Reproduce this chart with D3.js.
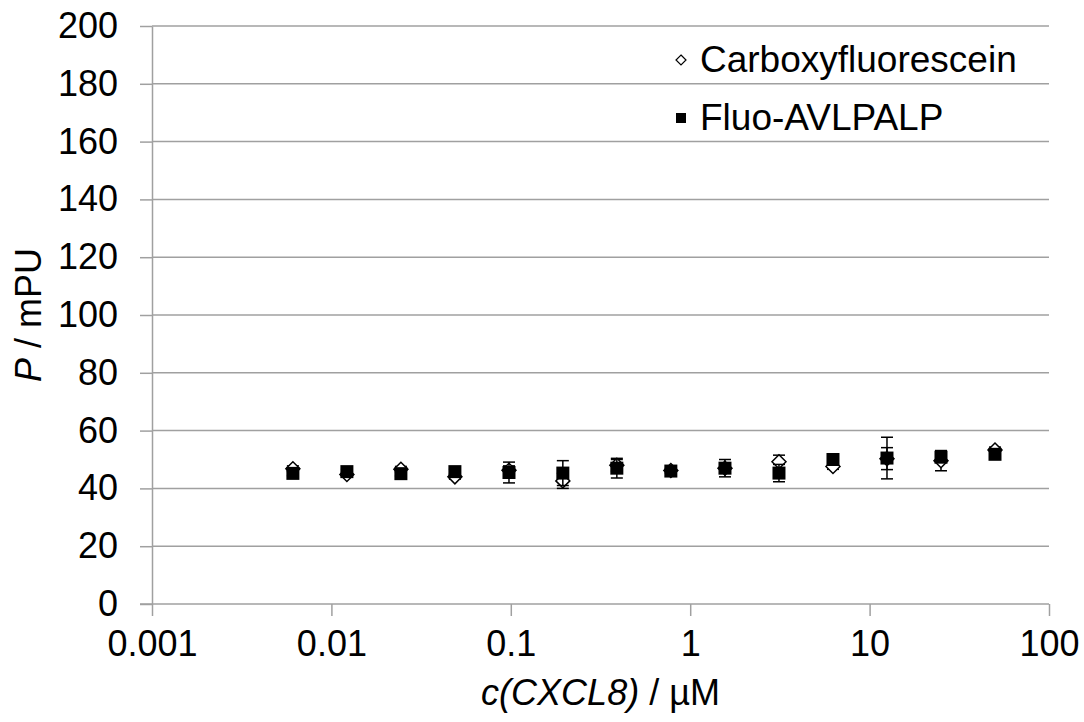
<!DOCTYPE html>
<html>
<head>
<meta charset="utf-8">
<script src="https://cdn.jsdelivr.net/npm/d3@7"></script>
<style>
  body { margin: 0; background: #fff; }
  svg text { font-family: "Liberation Sans", Arial, sans-serif; fill: #000; }
</style>
</head>
<body>
<div id="chart"></div>
<script>
// concentrations (µM), 2-fold dilution series
var conc = [0.0061, 0.0122, 0.0244, 0.0488, 0.0977, 0.195, 0.39, 0.78, 1.5625, 3.125, 6.25, 12.5, 25, 50];
var carboxy = [46.8, 44.8, 46.6, 44.0, 46.3, 42.6, 48.0, 46.2, 47.0, 49.2, 47.6, 50.3, 49.6, 53.3];
var carboxyErr = [1.0, 0.8, 1.0, 0.8, 1.5, 2.6, 2.0, 0.8, 1.0, 2.3, 1.0, 3.8, 3.5, 1.0];
var fluo = [45.2, 45.8, 45.1, 45.8, 45.5, 45.3, 47.0, 46.0, 47.0, 45.3, 50.0, 50.5, 50.8, 51.8];
var fluoErr = [0.8, 0.8, 0.8, 0.8, 3.6, 4.3, 3.4, 0.8, 3.0, 3.0, 0.8, 7.2, 1.0, 0.8];

var xTicks = [0.001, 0.01, 0.1, 1, 10, 100];
var yTicks = [0, 20, 40, 60, 80, 100, 120, 140, 160, 180, 200];

var margin = { top: 26, right: 35, bottom: 118, left: 152 };
var width = 1084 - margin.left - margin.right;
var height = 722 - margin.top - margin.bottom;
var fontSize = "36px";

var svg = d3.select("#chart").append("svg")
  .attr("width", 1084)
  .attr("height", 722);

var g = svg.append("g")
  .attr("transform", "translate(" + margin.left + "," + margin.top + ")");

var x = d3.scaleLog().domain([0.001, 100]).range([0, width]);
var y = d3.scaleLinear().domain([0, 200]).range([height, 0]);

// gridlines
g.append("g").selectAll("line")
  .data(yTicks.slice(1))
  .enter().append("line")
  .attr("x1", 0).attr("x2", width)
  .attr("y1", function (d) { return y(d); })
  .attr("y2", function (d) { return y(d); })
  .attr("stroke", "#a0a0a0")
  .attr("stroke-width", 1.5);

// y axis
var yAxis = g.append("g")
  .call(d3.axisLeft(y).tickValues(yTicks).tickSize(12).tickPadding(22).tickSizeOuter(0));
yAxis.selectAll("line").attr("stroke", "#a0a0a0").attr("stroke-width", 1.5);
yAxis.select(".domain").attr("stroke", "#a0a0a0").attr("stroke-width", 1.5);
yAxis.selectAll("text").style("font-size", fontSize).style("font-family", "Liberation Sans, Arial, sans-serif");

// x axis
var xAxis = g.append("g")
  .attr("transform", "translate(0," + height + ")")
  .call(d3.axisBottom(x).tickValues(xTicks).tickSize(12).tickPadding(14).tickSizeOuter(0)
    .tickFormat(function (d) { return String(d); }));
xAxis.selectAll("line").attr("stroke", "#a0a0a0").attr("stroke-width", 1.5);
xAxis.select(".domain").attr("stroke", "#a0a0a0").attr("stroke-width", 1.5)
  .attr("d", "M-12,0H" + width);
xAxis.selectAll("text").style("font-size", fontSize).style("font-family", "Liberation Sans, Arial, sans-serif");

// series data
var series = [
  { name: "Carboxyfluorescein", vals: carboxy, errs: carboxyErr, shape: "diamond" },
  { name: "Fluo-AVLPALP", vals: fluo, errs: fluoErr, shape: "square" }
];

var diamond = "M0,-7L7,0L0,7L-7,0Z";

series.forEach(function (s) {
  var pts = conc.map(function (c, i) { return { c: c, v: s.vals[i], e: s.errs[i] }; });
  var sg = g.append("g");

  // error bars
  var eb = sg.selectAll(".eb").data(pts).enter().append("g");
  eb.append("line")
    .attr("x1", function (d) { return x(d.c); }).attr("x2", function (d) { return x(d.c); })
    .attr("y1", function (d) { return y(d.v - d.e); }).attr("y2", function (d) { return y(d.v + d.e); })
    .attr("stroke", "#000").attr("stroke-width", 1.5);
  [-1, 1].forEach(function (sgn) {
    eb.append("line")
      .attr("x1", function (d) { return x(d.c) - 6; }).attr("x2", function (d) { return x(d.c) + 6; })
      .attr("y1", function (d) { return y(d.v + sgn * d.e); }).attr("y2", function (d) { return y(d.v + sgn * d.e); })
      .attr("stroke", "#000").attr("stroke-width", 1.5);
  });

  // markers
  if (s.shape === "diamond") {
    sg.selectAll(".m").data(pts).enter().append("path")
      .attr("d", diamond)
      .attr("transform", function (d) { return "translate(" + x(d.c) + "," + y(d.v) + ")"; })
      .attr("fill", "#fff").attr("stroke", "#000").attr("stroke-width", 1.5);
  } else {
    sg.selectAll(".m").data(pts).enter().append("rect")
      .attr("x", function (d) { return x(d.c) - 6.5; })
      .attr("y", function (d) { return y(d.v) - 6.5; })
      .attr("width", 13).attr("height", 13)
      .attr("fill", "#000");
  }
});

// legend
var leg = svg.append("g");
leg.append("path")
  .attr("d", "M0,-5L5,0L0,5L-5,0Z")
  .attr("transform", "translate(681,60)")
  .attr("fill", "#fff").attr("stroke", "#000").attr("stroke-width", 1.2);
leg.append("text").attr("x", 700).attr("y", 72).style("font-size", "37px").text("Carboxyfluorescein");
leg.append("rect").attr("x", 676).attr("y", 113).attr("width", 10).attr("height", 10).attr("fill", "#000");
leg.append("text").attr("x", 700).attr("y", 130).style("font-size", "37px").text("Fluo-AVLPALP");

// axis titles
var xt = svg.append("text")
  .attr("x", margin.left + width / 2)
  .attr("y", 705)
  .attr("text-anchor", "middle")
  .style("font-size", fontSize);
xt.append("tspan").style("font-style", "italic").text("c(CXCL8)");
xt.append("tspan").text(" / \u00b5M");

var yt = svg.append("text")
  .attr("transform", "translate(41," + (margin.top + height / 2) + ") rotate(-90)")
  .attr("text-anchor", "middle")
  .style("font-size", fontSize);
yt.append("tspan").style("font-style", "italic").text("P");
yt.append("tspan").text(" / mPU");
</script>
</body>
</html>
